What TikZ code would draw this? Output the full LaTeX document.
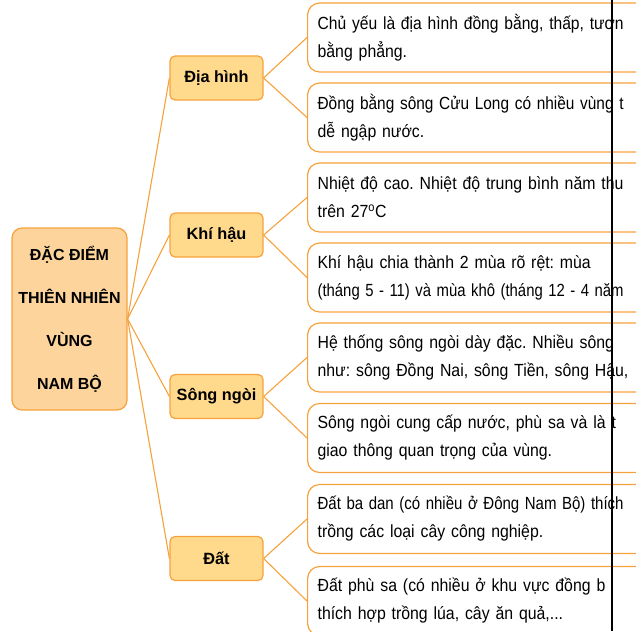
\documentclass[tikz,border=0pt]{standalone}
\usepackage{fontspec}
\usepackage{graphicx}
\setmainfont{Liberation Sans}
\newfontfamily\leaffont{Liberation Sans}[FakeStretch=0.9]
\frenchspacing
\definecolor{edgeorange}{HTML}{F6A23C}
\definecolor{rootfill}{HTML}{FCD49C}
\definecolor{subfill}{HTML}{FFD98C}
\tikzset{
    root node/.style = {
        draw = edgeorange,
        fill = rootfill,
        line width = 1.2pt,
        rounded corners = 10pt,
        minimum width = 115pt,
        minimum height = 182pt,
        align = center,
        font = \fontsize{16}{43}\selectfont\bfseries,
        },
    sub node/.style = {
        draw = edgeorange,
        fill = subfill,
        line width = 1.2pt,
        rounded corners = 5pt,
        minimum width = 93pt,
        minimum height = 44pt,
        font = \fontsize{16.3}{20}\selectfont\bfseries,
        },
    leaf/.style = {
        draw = edgeorange,
        fill = white,
        line width = 1.2pt,
        rounded corners = 12pt,
        anchor = west,
        text width = 360pt,
        inner xsep = 10pt,
        minimum height = 69pt,
        align = left,
        font = \leaffont\fontsize{17.6}{28}\selectfont,
        },
    link/.style = {
        draw = edgeorange,
        line width = 1.1pt,
        },
}
% first line of a leaf: spread out to the box edge, squeezed if too long
\newsavebox\linebox
\newcommand{\firstline}[1]{\sbox\linebox{#1}%
    \ifdim\wd\linebox>306pt \resizebox{306pt}{\height}{\usebox\linebox}%
    \else\makebox[306pt][s]{#1}\fi}

\begin{document}
\begin{tikzpicture}[x=1pt, y=-1pt]
            \useasboundingbox (0,0) rectangle (636,631);
            \clip (0,0) rectangle (636,631);

            \node[root node] (root) at (69.5,319) {ĐẶC ĐIỂM\\THIÊN NHIÊN\\VÙNG\\NAM BỘ};

            \node[sub node] (dh) at (216.5,78) {Địa hình};
            \node[sub node] (kh) at (216.5,235) {Khí hậu};
            \node[sub node] (sn) at (216.5,396.5) {Sông ngòi};
            \node[sub node] (dat) at (216.5,558.5) {Đất};

            \node[leaf] (dh1) at (307,37.5) {\firstline{Chủ yếu là địa hình đồng bằng, thấp, tươn}\\bằng phẳng.};
            \node[leaf] (dh2) at (307,117.5) {\firstline{Đồng bằng sông Cửu Long có nhiều vùng t}\\dễ ngập nước.};
            \node[leaf] (kh1) at (307,197.5) {\firstline{Nhiệt độ cao. Nhiệt độ trung bình năm thu}\\trên 27\textsuperscript{o}C};
            \node[leaf] (kh2) at (307,277.5) {\firstline{Khí hậu chia thành 2 mùa rõ rệt: mùa}\\\firstline{(tháng 5 - 11) và mùa khô (tháng 12 - 4 năm}};
            \node[leaf] (sn1) at (307,357.5) {\firstline{Hệ thống sông ngòi dày đặc. Nhiều sông}\\như: sông Đồng Nai, sông Tiền, sông Hậu,};
            \node[leaf] (sn2) at (307,438) {\firstline{Sông ngòi cung cấp nước, phù sa và là t}\\giao thông quan trọng của vùng.};
            \node[leaf] (dat1) at (307,519) {\firstline{Đất ba dan (có nhiều ở Đông Nam Bộ) thích}\\trồng các loại cây công nghiệp.};
            \node[leaf] (dat2) at (307,601) {\firstline{Đất phù sa (có nhiều ở khu vực đồng b}\\thích hợp trồng lúa, cây ăn quả,...};

            \path[link] (root.east) -- (dh.west);
            \path[link] (root.east) -- (kh.west);
            \path[link] (root.east) -- (sn.west);
            \path[link] (root.east) -- (dat.west);
            \path[link] (dh.east) -- (dh1.west);
            \path[link] (dh.east) -- (dh2.west);
            \path[link] (kh.east) -- (kh1.west);
            \path[link] (kh.east) -- (kh2.west);
            \path[link] (sn.east) -- (sn1.west);
            \path[link] (sn.east) -- (sn2.west);
            \path[link] (dat.east) -- (dat1.west);
            \path[link] (dat.east) -- (dat2.west);

            % black rule at the right
            \draw[line width=2pt] (611.5,0) -- (611.5,631);
        \end{tikzpicture}
\end{document}
